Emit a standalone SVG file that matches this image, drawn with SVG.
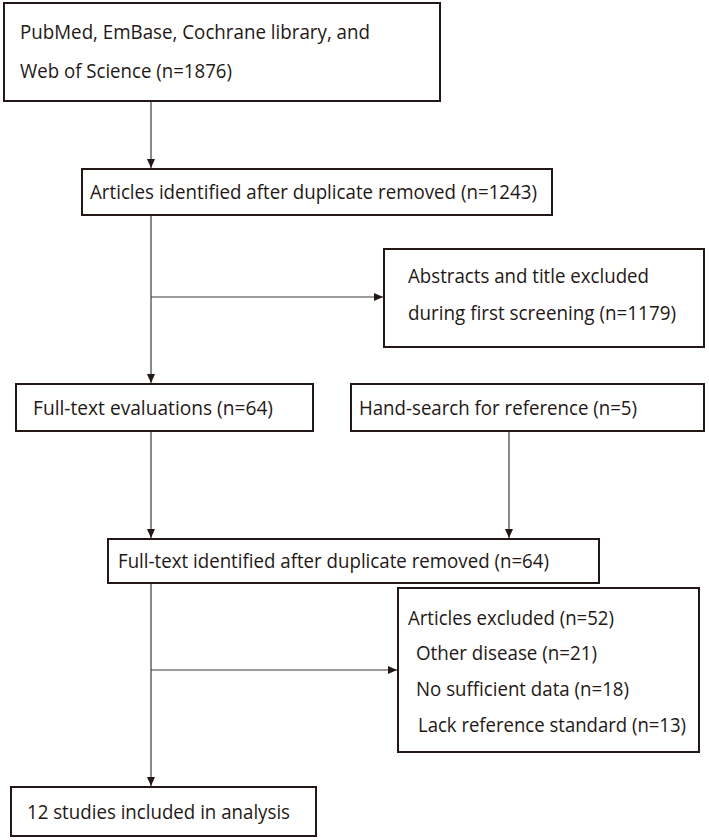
<svg xmlns="http://www.w3.org/2000/svg" width="709" height="840" viewBox="0 0 709 840">
  <style>
    .box { fill: #ffffff; stroke: #231815; stroke-width: 2; }
    .lbl { font-family: "Open Sans", "Noto Sans", sans-serif; font-size: 20.5px; fill: #231815; }
    .lbl-sm { font-size: 19.5px; }
    .link { fill: none; stroke: #3e3a39; stroke-width: 1.2; }
  </style>
  <defs>
    <marker id="arrow" markerWidth="10" markerHeight="10" refX="9" refY="5" orient="auto" markerUnits="userSpaceOnUse">
      <path d="M0,1 L9,5 L0,9 Z" fill="#231815"/>
    </marker>
  </defs>
  <rect width="709" height="840" fill="#ffffff"/>

  <g id="connectors">
    <line class="link" x1="151" y1="101" x2="151" y2="168" marker-end="url(#arrow)"/>
    <line class="link" x1="151" y1="215" x2="151" y2="383" marker-end="url(#arrow)"/>
    <line class="link" x1="151" y1="297" x2="383" y2="297" marker-end="url(#arrow)"/>
    <line class="link" x1="151" y1="431" x2="151" y2="538" marker-end="url(#arrow)"/>
    <line class="link" x1="509" y1="431" x2="509" y2="538" marker-end="url(#arrow)"/>
    <line class="link" x1="151" y1="583" x2="151" y2="786" marker-end="url(#arrow)"/>
    <line class="link" x1="151" y1="670" x2="397" y2="670" marker-end="url(#arrow)"/>
  </g>

  <g id="databases">
    <rect class="box" x="4" y="3" width="436" height="98"/>
    <text class="lbl" x="20" y="39" textLength="350" lengthAdjust="spacingAndGlyphs">PubMed, EmBase, Cochrane library, and</text>
    <text class="lbl" x="20" y="78" textLength="212" lengthAdjust="spacingAndGlyphs">Web of Science (n=1876)</text>
  </g>

  <g id="deduplicated">
    <rect class="box" x="82" y="169" width="470" height="46"/>
    <text class="lbl" x="90" y="199" textLength="447" lengthAdjust="spacingAndGlyphs">Articles identified after duplicate removed (n=1243)</text>
  </g>

  <g id="screen-excluded">
    <rect class="box" x="384" y="249" width="320" height="98"/>
    <text class="lbl" x="408" y="283" textLength="241" lengthAdjust="spacingAndGlyphs">Abstracts and title excluded</text>
    <text class="lbl" x="408" y="320" textLength="268" lengthAdjust="spacingAndGlyphs">during first screening (n=1179)</text>
  </g>

  <g id="full-text">
    <rect class="box" x="16" y="384" width="297" height="47"/>
    <text class="lbl" x="33" y="415" textLength="240" lengthAdjust="spacingAndGlyphs">Full-text evaluations (n=64)</text>
  </g>

  <g id="hand-search">
    <rect class="box" x="351" y="384" width="353" height="47"/>
    <text class="lbl" x="359" y="415" textLength="278" lengthAdjust="spacingAndGlyphs">Hand-search for reference (n=5)</text>
  </g>

  <g id="full-text-identified">
    <rect class="box" x="108" y="539" width="491" height="44"/>
    <text class="lbl" x="118" y="568" textLength="431" lengthAdjust="spacingAndGlyphs">Full-text identified after duplicate removed (n=64)</text>
  </g>

  <g id="articles-excluded">
    <rect class="box" x="398" y="588" width="301" height="164"/>
    <text class="lbl lbl-sm" x="408" y="625" textLength="206" lengthAdjust="spacingAndGlyphs">Articles excluded (n=52)</text>
    <text class="lbl lbl-sm" x="416" y="660" textLength="181" lengthAdjust="spacingAndGlyphs">Other disease (n=21)</text>
    <text class="lbl lbl-sm" x="416" y="696" textLength="213" lengthAdjust="spacingAndGlyphs">No sufficient data (n=18)</text>
    <text class="lbl lbl-sm" x="418" y="732" textLength="268" lengthAdjust="spacingAndGlyphs">Lack reference standard (n=13)</text>
  </g>

  <g id="included">
    <rect class="box" x="11" y="787" width="305" height="49"/>
    <text class="lbl" x="27" y="819" textLength="263" lengthAdjust="spacingAndGlyphs">12 studies included in analysis</text>
  </g>
</svg>
